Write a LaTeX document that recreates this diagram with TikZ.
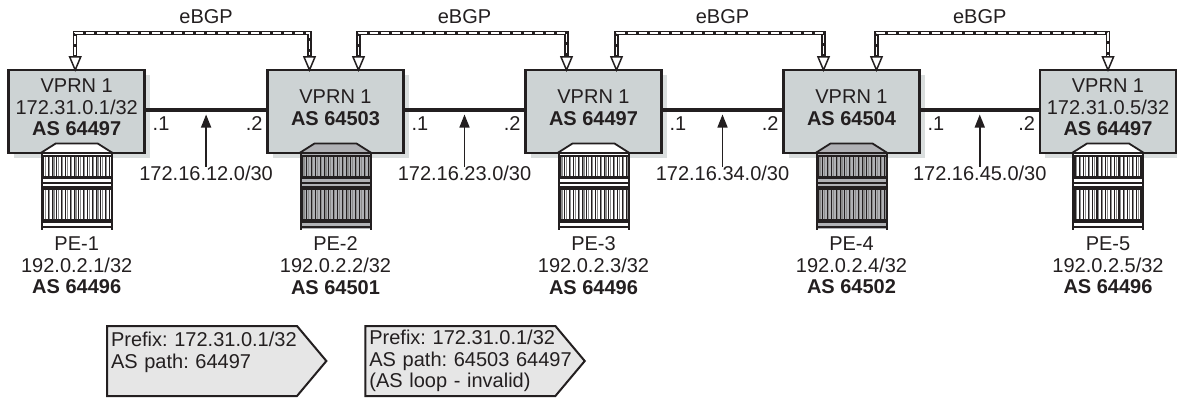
\documentclass[tikz,border=0pt]{standalone}
\usepackage{fontspec}
\setmainfont{Liberation Sans}
\usepackage{xcolor}
\usetikzlibrary{arrows.meta}
\usetikzlibrary{calc,positioning,shadows,shapes.symbols}
\definecolor{inkdark}{RGB}{35,31,32}
\definecolor{vprngray}{RGB}{205,211,212}
\definecolor{shadowgray}{RGB}{218,222,222}
\definecolor{routergray}{RGB}{176,177,181}
\definecolor{prefixgray}{RGB}{230,230,230}
\tikzset{%
  >={Triangle[width=10pt,length=13pt]},
  % Specifications for style of nodes:
  textbase/.style = {inner sep=0pt, outer sep=0pt, text=inkdark, align=center,
    font=\fontsize{20}{21.6}\selectfont\frenchspacing},
  vprn/.style = {rectangle, draw=inkdark, line width=2.5pt, fill=vprngray,
    minimum width=136pt, minimum height=83pt, outer sep=0pt,
    drop shadow={shadow xshift=5pt, shadow yshift=-5pt, fill=shadowgray, opacity=1}},
  vprntext/.style = {textbase, yshift=4pt},
  pelabel/.style = {textbase},
  netlabel/.style = {textbase, fill=white},
  ifaddr/.style = {textbase},
  bgptext/.style = {textbase},
  link/.style = {draw=inkdark, line width=4pt},
  netarrow/.style = {draw=inkdark, line width=1.5pt, ->},
  bgp/.style = {draw=inkdark, line width=4.5pt,
    {Triangle[open,fill=white,width=13pt,length=16pt,line width=1.5pt]}-{Triangle[open,fill=white,width=13pt,length=16pt,line width=1.5pt]},
    postaction={draw=white, line width=1.6pt, -, shorten <=17pt, shorten >=17pt,
      dash pattern=on 8pt off 3pt}},
  prefixflag/.style = {textbase, signal, signal to=east, signal pointer angle=100,
    draw=inkdark, line width=2pt, fill=prefixgray, align=left, text width=182pt,
    minimum height=70pt, inner xsep=4pt},
  pics/router/.style = {code={
    \fill[#1] (-36,0) rectangle (36,-76);
    \draw[draw=inkdark, fill=#1, line width=1.8pt, line join=round]
      (-36,0) -- (-21,9.5) -- (21,9.5) -- (36,0) -- cycle;
    \foreach \i in {-7.5,-6.5,...,7.5} {
      \draw[draw=black!45, line width=1.1pt] (\i*4.4+1.5,-3) -- (\i*4.4+1.5,-23);
      \draw[draw=black!45, line width=1.1pt] (\i*4.4+1.5,-37) -- (\i*4.4+1.5,-66);
      \draw[draw=inkdark, line width=1.1pt] (\i*4.4,-3) -- (\i*4.4,-23);
      \draw[draw=inkdark, line width=1.1pt] (\i*4.4,-37) -- (\i*4.4,-66);
    }
    \draw[draw=inkdark, line width=1.2pt] (-35,-3) -- (35,-3);
    \fill[inkdark] (-35,-22.7) rectangle (35,-26);
    \fill[inkdark] (-35,-28.7) rectangle (35,-31);
    \fill[inkdark] (-35,-33) rectangle (35,-37);
    \fill[inkdark] (-35,-66.3) rectangle (35,-69.7);
    \fill[inkdark] (-35,-73) rectangle (35,-75.3);
    \draw[draw=inkdark, line width=2pt] (-35,0) -- (-35,-77);
    \draw[draw=inkdark, line width=2pt] (35,0) -- (35,-77);
  }},
}

\begin{document}
\begin{tikzpicture}[x=1pt, y=1pt, node distance=120pt]
        \useasboundingbox (0,0) rectangle (1177,-399);
        % Specification of nodes (position, etc.)
        \node(vprnA)[vprn] at (76.7,-111.5){};
        \node(vprnB)[vprn,right=122.8pt of vprnA]{};
        \node(vprnC)[vprn,right=122pt of vprnB]{};
        \node(vprnD)[vprn,right=122pt of vprnC]{};
        \node(vprnE)[vprn,right=120.5pt of vprnD]{};
        \node(txtA)[vprntext] at (vprnA){VPRN 1 \\ 172.31.0.1/32 \\ \textbf{AS 64497}};
        \node(txtB)[vprntext] at (vprnB){VPRN 1 \\ \textbf{AS 64503}};
        \node(txtC)[vprntext] at (vprnC){VPRN 1 \\ \textbf{AS 64497}};
        \node(txtD)[vprntext] at (vprnD){VPRN 1 \\ \textbf{AS 64504}};
        \node(txtE)[vprntext] at (vprnE){VPRN 1 \\ 172.31.0.5/32 \\ \textbf{AS 64497}};
        % routers below the boxes
        \pic at (vprnA.south) {router=white};
        \pic at (vprnB.south) {router=routergray};
        \pic at (vprnC.south) {router=white};
        \pic at (vprnD.south) {router=routergray};
        \pic at (vprnE.south) {router=white};
        \node(peA)[pelabel,below=84pt of vprnA]{PE-1 \\ 192.0.2.1/32 \\ \textbf{AS 64496}};
        \node(peB)[pelabel,below=84pt of vprnB]{PE-2 \\ 192.0.2.2/32 \\ \textbf{AS 64501}};
        \node(peC)[pelabel,below=84pt of vprnC]{PE-3 \\ 192.0.2.3/32 \\ \textbf{AS 64496}};
        \node(peD)[pelabel,below=84pt of vprnD]{PE-4 \\ 192.0.2.4/32 \\ \textbf{AS 64502}};
        \node(peE)[pelabel,below=84pt of vprnE]{PE-5 \\ 192.0.2.5/32 \\ \textbf{AS 64496}};
        % links between the boxes
        \draw[link]([yshift=2pt]vprnA.east) -- coordinate(midA) ([yshift=2pt]vprnB.west);
        \draw[link]([yshift=2pt]vprnB.east) -- coordinate(midB) ([yshift=2pt]vprnC.west);
        \draw[link]([yshift=2pt]vprnC.east) -- coordinate(midC) ([yshift=2pt]vprnD.west);
        \draw[link]([yshift=2pt]vprnD.east) -- coordinate(midD) ([yshift=2pt]vprnE.west);
        \node(netA)[netlabel,below=57pt of midA]{172.16.12.0/30};
        \node(netB)[netlabel,below=57pt of midB]{172.16.23.0/30};
        \node(netC)[netlabel,below=57pt of midC]{172.16.34.0/30};
        \node(netD)[netlabel,below=57pt of midD]{172.16.45.0/30};
        \draw[netarrow](netA) -- ([yshift=-5pt]midA);
        \draw[netarrow](netB) -- ([yshift=-5pt]midB);
        \draw[netarrow](netC) -- ([yshift=-5pt]midC);
        \draw[netarrow](netD) -- ([yshift=-5pt]midD);
        % interface addresses
        \node(ifA)[ifaddr,below right=7pt and 8pt of midA -| vprnA.east]{.1};
        \node(ifB)[ifaddr,below left=7pt and 5pt of midA -| vprnB.west]{.2};
        \node(ifC)[ifaddr,below right=7pt and 8pt of midB -| vprnB.east]{.1};
        \node(ifD)[ifaddr,below left=7pt and 5pt of midB -| vprnC.west]{.2};
        \node(ifE)[ifaddr,below right=7pt and 8pt of midC -| vprnC.east]{.1};
        \node(ifF)[ifaddr,below left=7pt and 5pt of midC -| vprnD.west]{.2};
        \node(ifG)[ifaddr,below right=7pt and 8pt of midD -| vprnD.east]{.1};
        \node(ifH)[ifaddr,below left=7pt and 5pt of midD -| vprnE.west]{.2};
        % eBGP sessions
        \node(bgpA)[bgptext,above=85.5pt of midA]{eBGP};
        \node(bgpB)[bgptext,above=85.5pt of midB]{eBGP};
        \node(bgpC)[bgptext,above=85.5pt of midC]{eBGP};
        \node(bgpD)[bgptext,above=85.5pt of midD]{eBGP};
        \draw[bgp]([xshift=-1.5pt,yshift=-2pt]vprnA.north) -- ++(0,39) -| ([xshift=-26pt,yshift=-2pt]vprnB.north);
        \draw[bgp]([xshift=23pt,yshift=-2pt]vprnB.north) -- ++(0,39) -| ([xshift=-27pt,yshift=-2pt]vprnC.north);
        \draw[bgp]([xshift=23pt,yshift=-2pt]vprnC.north) -- ++(0,39) -| ([xshift=-28pt,yshift=-2pt]vprnD.north);
        \draw[bgp]([xshift=25pt,yshift=-2pt]vprnD.north) -- ++(0,39) -| ([yshift=-2pt]vprnE.north);
        % prefix flags
        \node(flagA)[prefixflag] at (202,-361){Prefix:~172.31.0.1/32 \\ AS~path:~64497 \\ \mbox{}};
        \node(flagB)[prefixflag,right=39pt of flagA]{Prefix:~172.31.0.1/32 \\ AS~path:~64503~64497 \\ (AS~loop~-~invalid)};
    \end{tikzpicture}
\end{document}
